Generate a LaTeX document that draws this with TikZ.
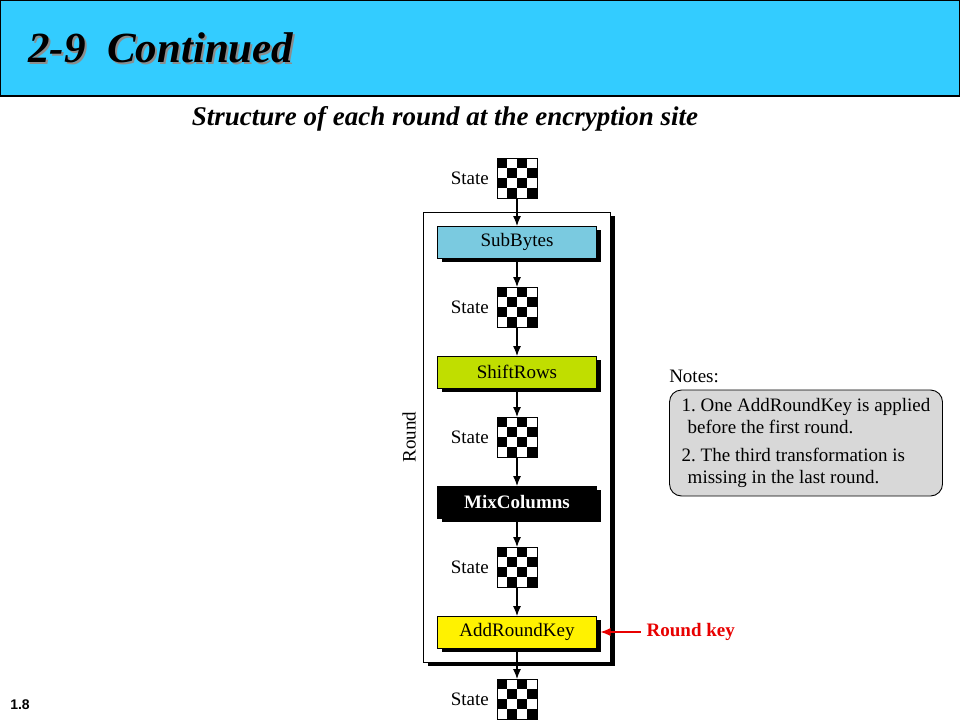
\documentclass[tikz,border=0pt]{standalone}
\usepackage{fontspec}
\setmainfont{Liberation Serif}
\newfontfamily\slidesans{Liberation Sans}
\usetikzlibrary{positioning,fit,shadows,backgrounds,arrows.meta}

\definecolor{headblue}{RGB}{51,204,255}
\definecolor{subblue}{RGB}{122,202,224}
\definecolor{shiftgreen}{RGB}{192,222,0}
\definecolor{keyred}{RGB}{232,0,0}
\definecolor{notegray}{RGB}{216,216,216}

\tikzset{
  blackshadow/.style={drop shadow={shadow xshift=4pt, shadow yshift=-4pt, fill=black, opacity=1}},
  state/.style={draw, minimum size=40pt, inner sep=0pt, outer sep=0pt, line width=0.8pt,
    path picture={
      \foreach \i in {0,...,3}
        \foreach \j in {0,...,3}{
          \ifodd\numexpr\i+\j\relax\else
            \fill ([shift={(\i*10pt,-\j*10pt)}]path picture bounding box.north west) rectangle ++(10pt,-10pt);
          \fi}
    }},
  statelabel/.style={inner sep=2pt, font=\fontsize{19}{22}\selectfont},
  trans/.style={draw, line width=0.8pt, minimum width=159pt, minimum height=32pt, inner sep=0pt, outer sep=0pt,
    font=\fontsize{19}{22}\selectfont, blackshadow},
  roundbox/.style={draw, fill=white, line width=0.9pt, blackshadow},
  arrow/.style={-{Latex[length=10pt,width=8pt]}, line width=1.1pt},
  titletext/.style={anchor=west, inner sep=0pt, font=\fontsize{43}{48}\selectfont\bfseries\itshape},
  notes/.style={draw, fill=notegray, line width=0.9pt, rounded corners=12pt, minimum width=273pt,
    minimum height=106pt, align=left, font=\fontsize{19}{22}\selectfont\frenchspacing}
}

\begin{document}
\begin{tikzpicture}[x=1pt, y=-1pt]
  \useasboundingbox (0,0) rectangle (960,720);

  % header
  \node[draw, line width=1.2pt, fill=headblue, minimum width=960pt, minimum height=96pt, inner sep=0pt] (head) at (480,48) {};
  \node[titletext, text=black!45] (titleshadow) at (30,50) {2-9\ \ Continued};
  \node[titletext] (title) at (28,48) {2-9\ \ Continued};
  \node[font=\fontsize{27}{30}\selectfont\bfseries\itshape] (caption) at (445,119) {Structure of each round at the encryption site};

  % one round
  \node[state] (s0) at (517,178) {};
  \node[trans, fill=subblue, below=28pt of s0] (sub) {SubBytes};
  \node[state, below=29pt of sub] (s1) {};
  \node[trans, fill=shiftgreen, below=29pt of s1] (shift) {ShiftRows};
  \node[state, below=29pt of shift] (s2) {};
  \node[trans, fill=black, text=white, font=\fontsize{19}{22}\selectfont\bfseries, below=29pt of s2] (mix) {MixColumns};
  \node[state, below=29pt of mix] (s3) {};
  \node[trans, fill=yellow, below=29pt of s3] (add) {AddRoundKey};
  \node[state, below=31pt of add] (s4) {};

  \foreach \s in {s0,s1,s2,s3,s4}
    \node[statelabel, left=6pt of \s] (\s-lbl) {State};

  \foreach \a/\b in {s0/sub, sub/s1, s1/shift, shift/s2, s2/mix, mix/s3, s3/add, add/s4}
    \draw[arrow] (\a) -- (\b);

  \begin{scope}[on background layer]
    \node[roundbox, fit=(sub)(add), inner xsep=14pt, inner ysep=14pt] (round) {};
  \end{scope}
  \node[statelabel, rotate=90, anchor=south] (round-lbl) at ([xshift=-5pt]round.west) {Round};

  % round key
  \node[statelabel, text=keyred, font=\fontsize{19}{22}\selectfont\bfseries, right=48pt of add] (key) {Round key};
  \draw[arrow, keyred, shorten <=4pt] (key) -- ([xshift=4pt]add.east);

  % notes
  \node[notes] (notes) at (806,443) {1. One AddRoundKey is applied\\\hspace*{6pt}before the first round.\\[6pt]2. The third transformation is\\\hspace*{6pt}missing in the last round.};
  \node[anchor=base west, inner sep=0pt, font=\fontsize{19}{22}\selectfont] (notes-lbl) at ([yshift=7pt]notes.north west) {Notes:};

  \node[font=\slidesans\bfseries\fontsize{14}{16}\selectfont] (page) at (20,705) {1.8};
\end{tikzpicture}
\end{document}
